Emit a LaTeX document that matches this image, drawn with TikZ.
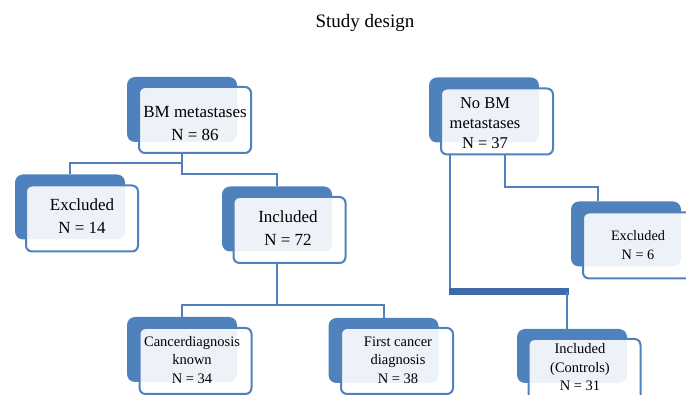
\documentclass[tikz,border=0pt]{standalone}
\usepackage{fontspec}
\setmainfont{Liberation Serif}
\usetikzlibrary{positioning}
\definecolor{BoxBlue}{RGB}{79, 129, 189}
\definecolor{BarBlue}{RGB}{62, 106, 168}

\begin{document}
\begin{tikzpicture}[
        x=1pt, y=-1pt,
        back/.style={
            rectangle,
            fill=BoxBlue,
            rounded corners=8pt,
            inner sep=0pt,
            minimum width=110pt,
            minimum height=65pt
        },
        front/.style={
            rectangle,
            draw=BoxBlue,
            line width=2pt,
            fill=white,
            fill opacity=0.9,
            rounded corners=6pt,
            inner sep=0pt,
            minimum width=112pt,
            minimum height=66pt
        },
        boxtext/.style={
            align=center,
            inner sep=0pt,
            font=\fontsize{17}{23}\selectfont
        },
        smalltext/.style={
            boxtext,
            font=\fontsize{14.5}{18.5}\selectfont
        },
        link/.style={
            draw=BoxBlue,
            line width=2pt
        },
        bar/.style={
            draw=BarBlue,
            line width=7pt
        }
    ]
        \useasboundingbox (0,0) rectangle (686,395);
        \clip (0,0) rectangle (686,395);

        % Title
        \node[font=\fontsize{19}{23}\selectfont] (title) at (365,23) {Study design};

        % Cases (BM metastases)
        \node[back] (bmb) at (182,109.5) {};
        \node[front] (bm) at (195,120) {};
        \node[boxtext] (bmt) at (195,123.5) {BM metastases\\N = 86};

        \node[back] (exlb) at (70,207) {};
        \node[front] (exl) at (82,218.5) {};
        \node[boxtext] (exlt) at (82,216) {Excluded\\N = 14};

        \node[back] (incb) at (277,219) {};
        \node[front] (inc) at (289.5,230) {};
        \node[boxtext] (inct) at (288,228) {Included\\N = 72};

        \node[back] (ckb) at (182,349.5) {};
        \node[front] (ck) at (195.5,361) {};
        \node[smalltext] (ckt) at (192,360) {Cancerdiagnosis\\known\\N = 34};

        \node[back] (fcdb) at (383.5,350.5) {};
        \node[front] (fcd) at (397,361) {};
        \node[smalltext] (fcdt) at (398,360) {First cancer\\diagnosis\\N = 38};

        % Controls (No BM metastases)
        \node[back] (nobmb) at (484,110) {};
        \node[front] (nobm) at (497,121.5) {};
        \node[boxtext, font=\fontsize{16.5}{20}\selectfont] (nobmt) at (485,123) {No BM\\metastases\\N = 37};

        \node[back] (exrb) at (626,234) {};
        \node[front] (exr) at (639,245.5) {};
        \node[smalltext, font=\fontsize{14.3}{19}\selectfont] (exrt) at (638,245.5) {Excluded\\N = 6};

        \node[back, minimum height=54pt] (ctlb) at (572,356) {};
        \node[front] (ctl) at (584.5,372) {};
        \node[smalltext] (ctlt) at (580,367.5) {Included\\(Controls)\\N = 31};

        % Connections
        \coordinate (j1) at (182,163);
        \coordinate (j2) at (182,174);
        \coordinate (j3) at (277,305);
        \draw[link] (bmb.south |- bm.south) -- (j2) -| (incb.north);
        \draw[link] (j1) -| (exlb.north);
        \draw[link] (incb.south |- inc.south) -- (j3);
        \draw[link] (ckb.north) |- (j3) -| (fcdb.north);

        \coordinate (j4) at (450,292);
        \coordinate (j5) at (567,292);
        \draw[link] ([xshift=8pt]nobm.south) -- ++(0,32) -| ([xshift=-28pt]exrb.north);
        \draw[link] ([xshift=-47pt]nobm.south) -- (j4);
        \draw[bar, shorten <=-1.5pt, shorten >=-1.5pt] (j4) -- (j5);
        \draw[link] (j5) -- ([xshift=-5pt]ctlb.north);

    \end{tikzpicture}
\end{document}
